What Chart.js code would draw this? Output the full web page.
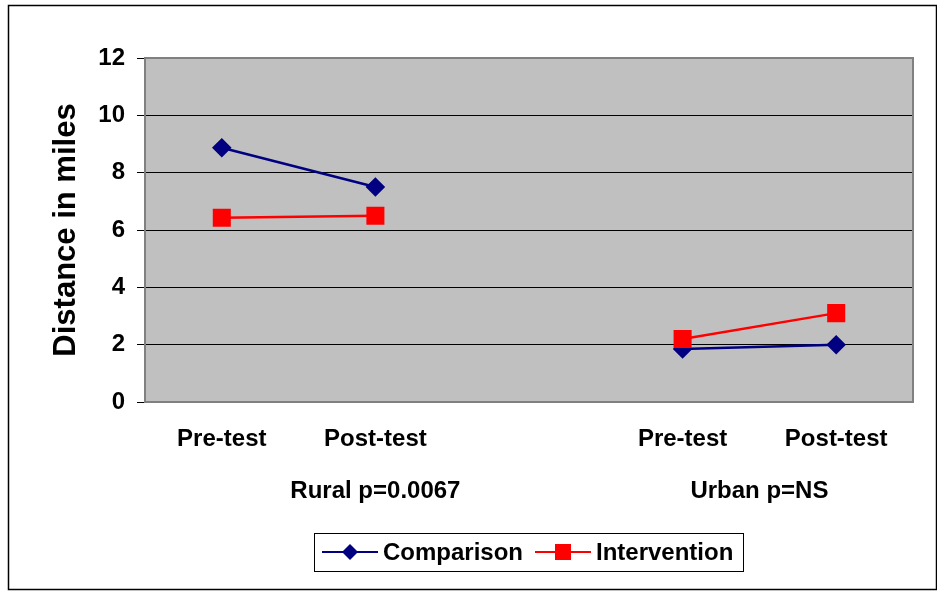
<!DOCTYPE html>
<html>
<head>
<meta charset="utf-8">
<script src="https://cdn.jsdelivr.net/npm/chart.js@4"></script>
<style>
  body { margin: 0; background: #fff; }
  #wrap { position: relative; width: 937px; height: 591px; }
</style>
</head>
<body>
<div id="wrap"><canvas id="chart" width="937" height="591"></canvas></div>
<script>
// Data
const categories = ['Pre-test', 'Post-test', '', 'Pre-test', 'Post-test'];
const groupLabels = ['Rural p=0.0067', 'Urban p=NS'];
const comparison = [8.87, 7.5, null, 1.85, 2.0];
const intervention = [6.43, 6.5, null, 2.2, 3.1];
const yTicks = [0, 2, 4, 6, 8, 10, 12];

const FONT = 'Liberation Sans, Arial, sans-serif';

// grey plot background, grey frame, group labels, outer border, legend
const decor = {
    id: 'decor',
    beforeDraw(chart) {
        const { ctx, chartArea: a } = chart;
        ctx.save();
        ctx.fillStyle = '#fff';
        ctx.fillRect(0, 0, chart.width, chart.height);
        ctx.fillStyle = '#c0c0c0';
        ctx.fillRect(a.left, a.top, a.right - a.left, a.bottom - a.top);
        ctx.restore();
    },
    beforeDatasetsDraw(chart) {
        const { ctx, chartArea: a } = chart;
        ctx.save();
        ctx.strokeStyle = '#808080';
        ctx.lineWidth = 2;
        ctx.strokeRect(a.left, a.top, a.right - a.left, a.bottom - a.top);
        ctx.restore();
    },
    afterDraw(chart) {
        const { ctx } = chart;
        const x = chart.scales.x;
        ctx.save();
        // group labels under the categories
        ctx.fillStyle = '#000';
        ctx.font = 'bold 24px ' + FONT;
        ctx.textAlign = 'center';
        ctx.textBaseline = 'middle';
        ctx.fillText(groupLabels[0], x.getPixelForValue(1), 491);
        ctx.fillText(groupLabels[1], (x.getPixelForValue(3) + x.getPixelForValue(4)) / 2, 491);

        // outer border
        ctx.strokeStyle = '#000';
        ctx.lineWidth = 1.5;
        ctx.strokeRect(8.5, 5.5, 928, 584);

        // legend box
        ctx.lineWidth = 1;
        ctx.strokeRect(314.5, 533.5, 429, 38);
        const items = chart.data.datasets;
        const starts = [322, 535];
        ctx.textAlign = 'left';
        ctx.font = 'bold 24px ' + FONT;
        items.forEach((ds, i) => {
            const sx = starts[i], cy = 552;
            ctx.strokeStyle = ds.borderColor;
            ctx.lineWidth = 2;
            ctx.beginPath();
            ctx.moveTo(sx, cy);
            ctx.lineTo(sx + 56, cy);
            ctx.stroke();
            ctx.fillStyle = ds.pointBackgroundColor;
            ctx.beginPath();
            if (ds.pointStyle === 'rectRot') {
                const r = 8, cx = sx + 28;
                ctx.moveTo(cx, cy - r);
                ctx.lineTo(cx + r, cy);
                ctx.lineTo(cx, cy + r);
                ctx.lineTo(cx - r, cy);
                ctx.closePath();
            } else {
                ctx.rect(sx + 20, cy - 8, 16, 16);
            }
            ctx.fill();
            ctx.fillStyle = '#000';
            ctx.fillText(ds.label, sx + 61, cy + 1);
        });
        ctx.restore();
    }
};

new Chart(document.getElementById('chart'), {
    type: 'line',
    data: {
        labels: categories,
        datasets: [{
            label: 'Comparison',
            data: comparison,
            order: 1,
            borderColor: '#000080',
            backgroundColor: '#000080',
            pointBackgroundColor: '#000080',
            pointBorderColor: '#000080',
            pointStyle: 'rectRot',
            pointRadius: 8,
            borderWidth: 2.5,
            spanGaps: false,
            tension: 0
        }, {
            label: 'Intervention',
            data: intervention,
            order: 0,
            borderColor: '#ff0000',
            backgroundColor: '#ff0000',
            pointBackgroundColor: '#ff0000',
            pointBorderColor: '#ff0000',
            pointStyle: 'rect',
            pointRadius: 11,
            borderWidth: 2.5,
            spanGaps: false,
            tension: 0
        }]
    },
    options: {
        responsive: false,
        animation: false,
        layout: { padding: { left: 0, right: 24, top: 58, bottom: 0 } },
        plugins: {
            legend: { display: false },
            tooltip: { enabled: false }
        },
        scales: {
            x: {
                offset: true,
                grid: { display: false, drawTicks: false },
                border: { display: false },
                ticks: {
                    color: '#000',
                    padding: 23,
                    maxRotation: 0,
                    autoSkip: false,
                    font: { family: FONT, size: 24, weight: 'bold' }
                },
                afterFit(scale) { scale.height = 189; }
            },
            y: {
                min: 0,
                max: 12,
                afterBuildTicks(scale) { scale.ticks = yTicks.map(v => ({ value: v })); },
                grid: { color: '#000', lineWidth: 1, tickColor: '#000', tickLength: 8 },
                border: { display: false },
                ticks: {
                    color: '#000',
                    padding: 12,
                    font: { family: FONT, size: 24, weight: 'bold' }
                },
                title: {
                    display: true,
                    text: 'Distance in miles',
                    color: '#000',
                    padding: { top: 48, bottom: 0 },
                    font: { family: FONT, size: 31, weight: 'bold' }
                },
                afterFit(scale) { scale.width = 145; }
            }
        }
    },
    plugins: [decor]
});
</script>
</body>
</html>
